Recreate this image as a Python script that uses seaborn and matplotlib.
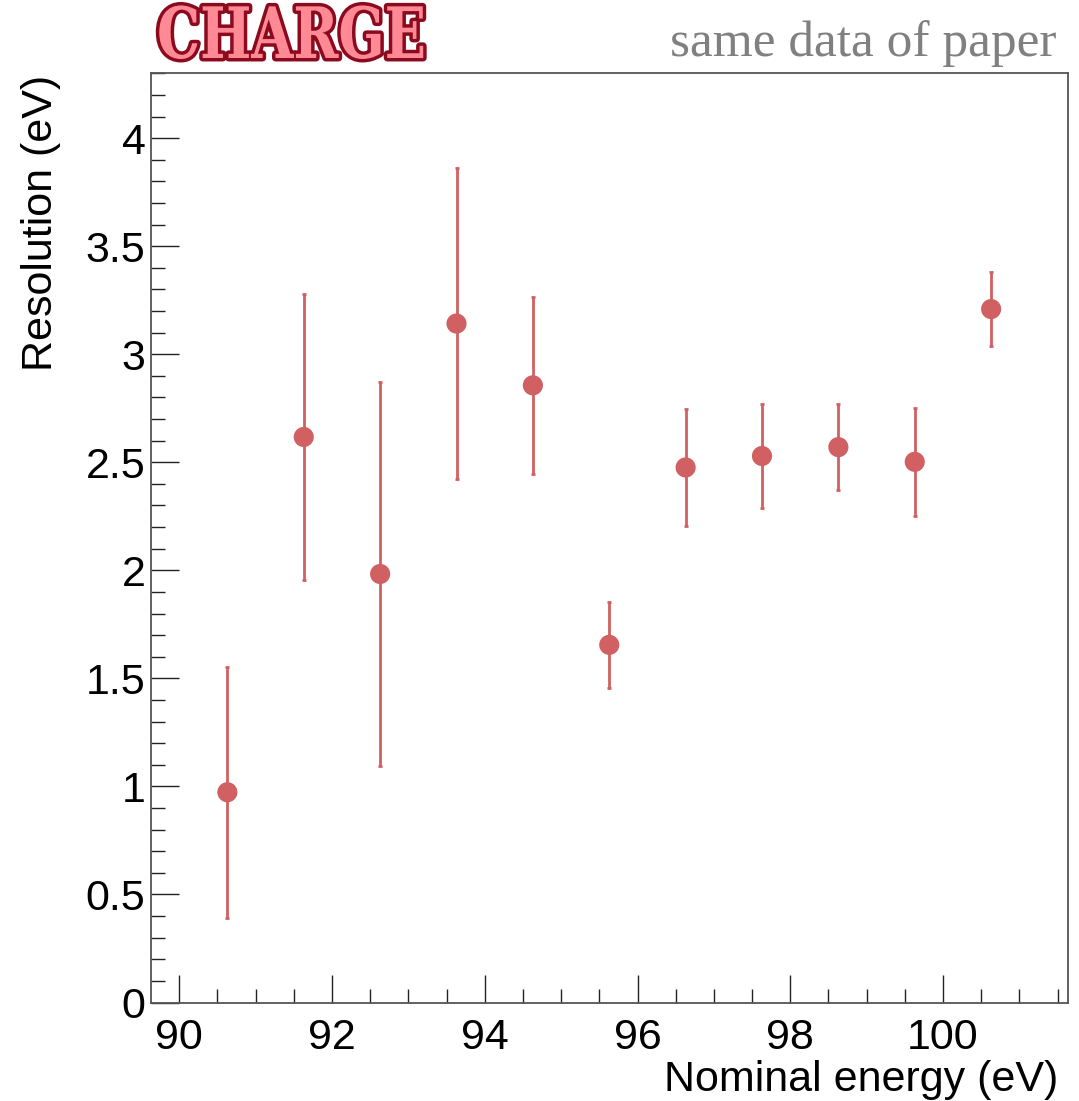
import matplotlib
matplotlib.use("Agg")
import matplotlib.pyplot as plt
import matplotlib.patheffects as pe
from matplotlib.transforms import Affine2D
from matplotlib.ticker import MultipleLocator
import pandas as pd
import seaborn as sns

# Measured resolution per nominal beam energy
energy = [90.63, 91.63, 92.63, 93.63, 94.63, 95.63, 96.63, 97.63, 98.63, 99.63, 100.63]
resolution = [0.973, 2.617, 1.983, 3.142, 2.856, 1.655, 2.476, 2.529, 2.570, 2.502, 3.209]
resolution_err = [0.58, 0.66, 0.89, 0.72, 0.41, 0.20, 0.27, 0.24, 0.20, 0.25, 0.17]

x_ticks = [90, 92, 94, 96, 98, 100]
y_ticks = [0, 0.5, 1, 1.5, 2, 2.5, 3, 3.5, 4]

df = pd.DataFrame({"energy": energy, "resolution": resolution, "err": resolution_err})


class SqueezedOutline(pe.AbstractPathEffect):
    """Draws glyphs narrowed horizontally about x0, with an outline under the fill."""

    def __init__(self, sx, x0, linewidth, outline):
        super().__init__()
        self.sx, self.x0 = sx, x0
        self.linewidth, self.outline = linewidth, outline

    def draw_path(self, renderer, gc, tpath, affine, rgbFace=None):
        t = affine + Affine2D().translate(-self.x0, 0).scale(self.sx, 1).translate(self.x0, 0)
        gc0 = renderer.new_gc()
        gc0.copy_properties(gc)
        gc0.set_linewidth(self.linewidth)
        gc0.set_foreground(self.outline)
        renderer.draw_path(gc0, tpath, t, rgbFace)
        gc0.restore()
        renderer.draw_path(gc, tpath, t, rgbFace)


sns.set_theme(style="ticks")
plt.rcParams["font.family"] = ["Liberation Sans", "DejaVu Sans"]

W, H = 1079, 1101
fig = plt.figure(figsize=(W / 100, H / 100), dpi=100)
ax = fig.add_axes([151 / W, 1 - 1002.5 / H, (1067.5 - 151) / W, (1002.5 - 73.3) / H])

point_color = "#d06062"
ax.errorbar(df["energy"], df["resolution"], yerr=df["err"], fmt="none",
            ecolor=point_color, elinewidth=2.0, capsize=1.6, capthick=2.0, zorder=2)
sns.scatterplot(data=df, x="energy", y="resolution", ax=ax, color=point_color,
                s=210, marker="o", edgecolor="none", linewidth=0, zorder=3, legend=False)

ax.set_xlim(89.63, 101.63)
ax.set_ylim(0, 4.3)
ax.set_xticks(x_ticks)
ax.set_yticks(y_ticks)
ax.xaxis.set_minor_locator(MultipleLocator(0.5))
ax.yaxis.set_minor_locator(MultipleLocator(0.1))
ax.set_xticklabels([str(v) for v in x_ticks])
ax.set_yticklabels([("%g" % v) for v in y_ticks])

ax.tick_params(axis="both", which="both", direction="in", colors="#222222",
               top=False, right=False)
ax.tick_params(axis="x", which="major", length=20, width=1.0, pad=11, labelsize=31)
ax.tick_params(axis="x", which="minor", length=10, width=1.0)
ax.tick_params(axis="y", which="major", length=20, width=1.0, pad=4, labelsize=31)
ax.tick_params(axis="y", which="minor", length=10, width=1.0)
for lab in ax.get_xticklabels() + ax.get_yticklabels():
    lab.set_color("black")

for side in ["left", "bottom", "right", "top"]:
    ax.spines[side].set_visible(True)
    ax.spines[side].set_color("#555555")
    ax.spines[side].set_linewidth(1.3)

ax.set_xlabel("")
ax.set_ylabel("")
fig.text(1058 / W, 1 - 1091.5 / H, "Nominal energy (eV)", ha="right", va="baseline",
         fontsize=31, color="black")
fig.text(41 / W, 1 - 75 / H, "Resolution (eV)", rotation=90, ha="center", va="top",
         fontsize=31, color="black")

# Headline logo and note above the frame
logo_x = 157
fig.text(logo_x / W, 1 - 58 / H, "CHARGE", ha="left", va="baseline",
         fontsize=51, fontweight="bold", family=["DejaVu Serif"],
         color="#ff8a96",
         path_effects=[SqueezedOutline(0.765, logo_x, 5, "#8c0a1e")])
fig.text(1056 / W, 1 - 56 / H, "same data of paper", ha="right", va="baseline",
         fontsize=37, family=["Liberation Serif"], color="#808080")

fig.savefig("out.png", dpi=100, facecolor="white")
